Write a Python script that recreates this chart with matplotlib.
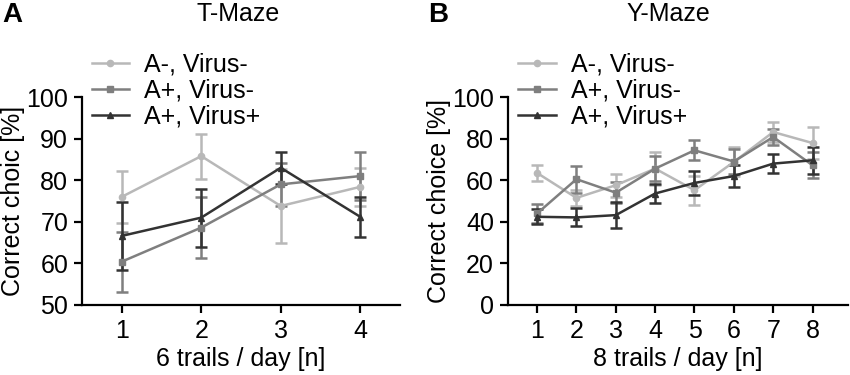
import matplotlib
matplotlib.use("Agg")
import matplotlib.pyplot as plt
from matplotlib.lines import Line2D

plt.rcParams['font.family'] = ['Liberation Sans', 'DejaVu Sans']
plt.rcParams['font.size'] = 18

groups = ['A-, Virus-', 'A+, Virus-', 'A+, Virus+']
colors = ['#b8b8b8', '#7f7f7f', '#333333']
markers = ['o', 's', '^']

# T-Maze
t_days = [1, 2, 3, 4]
t_mean = [[76.0, 85.8, 73.8, 78.4],
          [60.4, 68.6, 79.0, 81.0],
          [66.6, 71.0, 83.0, 71.2]]
t_err = [[6.2, 5.4, 9.0, 4.5],
         [7.2, 7.4, 5.2, 5.8],
         [8.2, 7.0, 3.8, 4.8]]

# Y-Maze
y_days = [1, 2, 3, 4, 5, 6, 7, 8]
y_mean = [[63.5, 51.5, 57.6, 65.6, 55.2, 68.8, 83.2, 77.9],
          [44.0, 60.5, 54.0, 65.6, 74.4, 69.0, 80.8, 67.2],
          [42.4, 42.1, 43.2, 53.6, 58.7, 62.0, 68.0, 69.6]]
y_err = [[3.7, 4.0, 5.6, 8.0, 7.0, 7.0, 5.0, 7.7],
         [4.5, 6.5, 5.2, 6.0, 4.8, 6.0, 4.0, 6.2],
         [3.7, 4.3, 6.4, 4.5, 5.8, 5.5, 4.4, 6.6]]

fig = plt.figure(figsize=(8.5, 3.75), dpi=100)
axA = fig.add_axes([0.0965, 0.187, 0.374, 0.554])
axB = fig.add_axes([0.5976, 0.187, 0.40, 0.554])


def draw(ax, days, means, errs, ylim, yticks, xlim, xlabel, ylabel):
    for m, e, c, mk in zip(means, errs, colors, markers):
        ax.errorbar(days, m, yerr=e, color=c, marker=mk, markersize=4.5,
                    linewidth=1.8, elinewidth=1.8, capsize=4, capthick=1.8)
    ax.set_xlim(*xlim)
    ax.set_ylim(*ylim)
    ax.set_xticks(days)
    ax.set_yticks(yticks)
    for s in ['top', 'right']:
        ax.spines[s].set_visible(False)
    for s in ['left', 'bottom']:
        ax.spines[s].set_linewidth(1.6)
    ax.tick_params(width=1.6, length=6, direction='out', labelsize=18, pad=4)
    ax.set_xlabel(xlabel, fontsize=18, labelpad=3)
    ax.set_ylabel(ylabel, fontsize=18, labelpad=1)
    handles = [Line2D([], [], color=c, marker=mk, markersize=4.5, linewidth=1.8)
               for c, mk in zip(colors, markers)]
    ax.legend(handles, groups, loc='upper left', bbox_to_anchor=(0.03, 1.215),
              frameon=False, fontsize=18, handlelength=1.5, handletextpad=0.6,
              labelspacing=0.08, borderpad=0, borderaxespad=0)


draw(axA, t_days, t_mean, t_err, (50, 100), [50, 60, 70, 80, 90, 100],
     (0.5, 4.5), '6 trails / day [n]', 'Correct choic [%]')
draw(axB, y_days, y_mean, y_err, (0, 100), [0, 20, 40, 60, 80, 100],
     (0.26, 8.9), '8 trails / day [n]', 'Correct choice [%]')

fig.text(238 / 850, 1 - 14 / 375, 'T-Maze', fontsize=18, ha='center', va='center')
fig.text(668 / 850, 1 - 14 / 375, 'Y-Maze', fontsize=18, ha='center', va='center')
fig.text(2 / 850, 1 - 15 / 375, 'A', fontsize=20, fontweight='bold', va='center')
fig.text(428 / 850, 1 - 15 / 375, 'B', fontsize=20, fontweight='bold', va='center')

fig.savefig('out.png', dpi=100)
